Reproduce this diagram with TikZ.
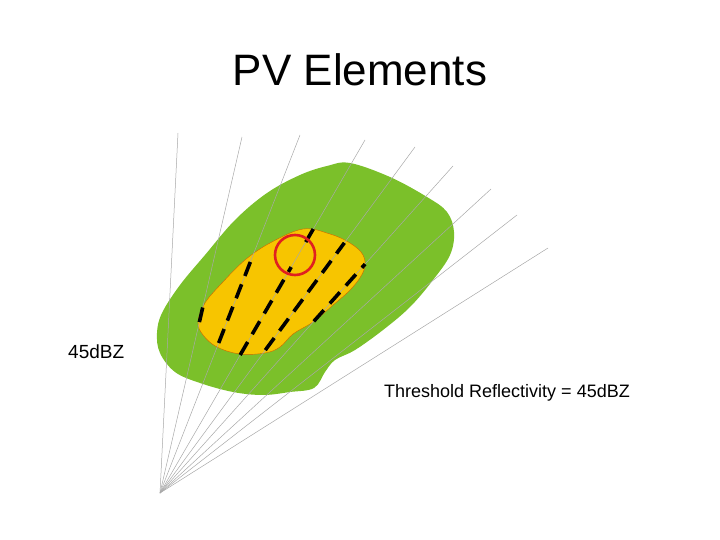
\documentclass[tikz,border=0pt]{standalone}
\usepackage{fontspec}
\setmainfont{Liberation Sans}
\usetikzlibrary{calc}
\definecolor{echogreen}{HTML}{7BC02A}
\definecolor{echoyellow}{HTML}{F7C500}
\definecolor{raygray}{HTML}{A8A8A8}
\definecolor{ringred}{HTML}{E02020}
\tikzset{
  ray/.style={draw=raygray, line width=0.5pt},
  pvdash/.style={draw=black, line width=3.6pt, dash pattern=on 15pt off 9pt},
  ring/.style={draw=ringred, line width=2.6pt},
  lbl/.style={font=\fontsize{18}{21}\selectfont, inner sep=0pt, anchor=west},
}

\begin{document}
\begin{tikzpicture}[x=1pt, y=-1pt]
  \useasboundingbox (0,0) rectangle (720,540);

  \node[font=\fontsize{44}{50}\selectfont] (title) at (360,70) {PV Elements};

  % echo regions
  \fill[echogreen] plot[smooth cycle, tension=0.6] coordinates {
    (350,163) (390,177) (427,197) (447,212) (454,232) (450,255) (433,280)
    (410,307) (383,330) (355,350) (335,360) (325,372) (314,388) (290,392)
    (263,395) (233,392) (200,383) (175,372) (160,353) (157,333) (162,313)
    (180,285) (205,255) (235,220) (267,193) (300,175) (327,166)};
  \filldraw[fill=echoyellow, draw=orange!80!black, line width=0.4pt]
    plot[smooth cycle, tension=0.6] coordinates {
    (303,229) (330,234) (350,243) (363,255) (364,270) (352,288) (332,306)
    (313,322) (293,334) (280,347) (265,353) (240,354) (217,347) (203,335)
    (198,322) (205,303) (222,283) (245,260) (270,243)};

  % radials
  \coordinate (radar) at (160,493);
  \foreach \i/\x/\y in {1/178/133, 2/242/137, 3/300/135, 4/365/140, 5/415/147,
                        6/453/166, 7/491/189, 8/517/215, 9/548/248}
    \coordinate (tip\i) at (\x,\y);
  \foreach \i in {1,...,9}
    \draw[ray] (radar) -- (tip\i);

  % PV elements
  \foreach \i/\a/\b in {2/0.480/0.534, 3/0.419/0.656, 4/0.391/0.640,
                        4/0.711/0.756, 5/0.413/0.723, 6/0.525/0.700}
    \draw[pvdash] ($(radar)!\a!(tip\i)$) -- ($(radar)!\b!(tip\i)$);

  \draw[ring] (295,255) circle (20);

  \node[lbl, font=\fontsize{19}{22}\selectfont] (level) at (68,352) {45dBZ};
  \node[lbl] (threshold) at (384,393) {Threshold Reflectivity = 45dBZ};
\end{tikzpicture}
\end{document}
